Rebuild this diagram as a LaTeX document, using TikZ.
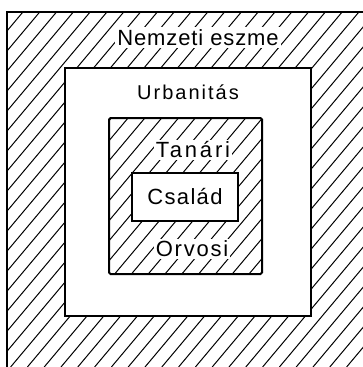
\documentclass[tikz,border=0pt]{standalone}
\usepackage{fontspec}
\setmainfont{Liberation Sans}
\newcommand{\lsp}[1]{\addfontfeatures{LetterSpace=#1}}
\begin{document}
\begin{tikzpicture}[x=1pt,y=-1pt,
  frame/.style={line width=2pt},
  hatch/.style={line width=1pt},
  lbl/.style={fill=white,inner sep=2pt,font=\fontsize{22}{24}\selectfont}]
\useasboundingbox (0,0) rectangle (363,367);
% outer hatched region
\begin{scope}
  \clip (7,12) rectangle (363,367);
  \foreach \i in {-8,...,34}{
    \draw[hatch] ({117+16.8*\i},0) -- ({117+16.8*\i-308},367);
  }
\end{scope}
% white box (Urbanitas)
\node[draw,frame,fill=white,minimum width=246pt,minimum height=248pt,inner sep=0pt] (urb) at (188,192) {};
% hatched box (Tanari / Orvosi)
\begin{scope}
  \clip (109,118) rectangle (262,274);
  \foreach \i in {-2,...,20}{
    \draw[hatch] ({160+16.8*\i},100) -- ({160+16.8*\i-168},300);
  }
\end{scope}
\node[draw,frame,rounded corners=1.5pt,minimum width=153pt,minimum height=156pt,inner sep=0pt] (mid) at (185.5,196) {};
% outer frame lines
\coordinate (tl) at (7,12);
\coordinate (tr) at (363,12);
\coordinate (bl) at (7,367);
\draw[frame] (bl) -- (tl) -- (tr);
% labels
\node[lbl] (nem) at (198,37.5) {\lsp{4}Nemzeti eszme};
\node[lbl,fill=none,font=\fontsize{20}{22}\selectfont] (urbt) at (188,92) {\lsp{10}Urbanitás};
\node[lbl] (tan) at (193,150) {\lsp{13}Tanári};
\node[draw,frame,fill=white,minimum width=106pt,minimum height=48pt,inner sep=0pt,font=\fontsize{22}{24}\selectfont] (csa) at (185,197) {\lsp{6}Család};
\node[lbl] (orv) at (192,249) {\lsp{8}Orvosi};
\end{tikzpicture}
\end{document}
